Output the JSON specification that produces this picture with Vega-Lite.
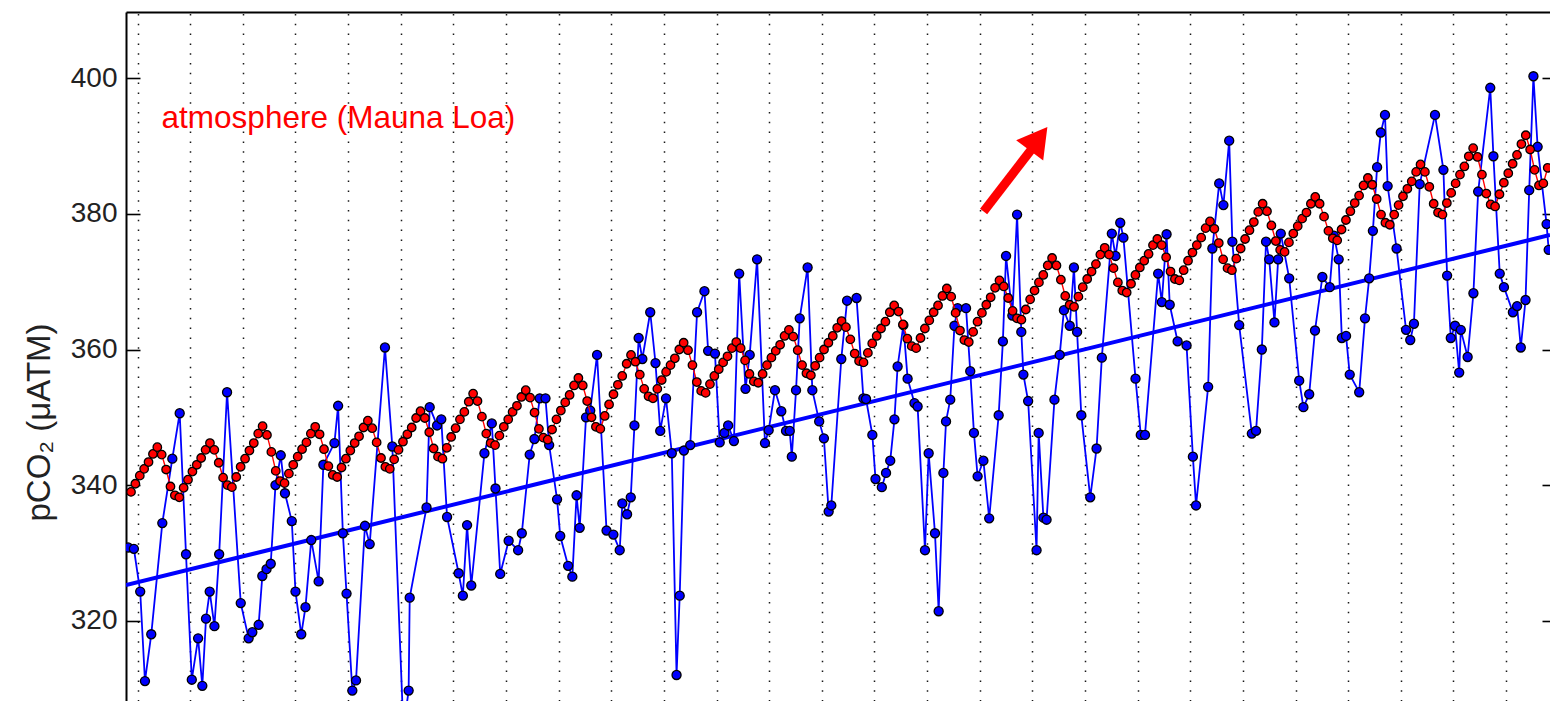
{
  "$schema": "https://vega.github.io/schema/vega-lite/v6.json",
  "width": 1424,
  "height": 689,
  "autosize": {"type": "none"},
  "padding": {"left": 126, "top": 12, "right": 0, "bottom": 0},
  "background": "white",
  "config": {"view": {"stroke": null}},
  "datasets": {
    "trend": [{"t": 1982.78, "v": 325.25}, {"t": 2009.835, "v": 376.9}],
    "ocean": [
      {"t":1982.82,"v":330.8},{"t":1982.93,"v":330.6},{"t":1983.05,"v":324.3},{"t":1983.14,"v":311.1},{"t":1983.26,"v":318.0},{"t":1983.47,"v":334.4},{"t":1983.66,"v":343.9},{"t":1983.80,"v":350.6},{"t":1983.92,"v":329.8},{"t":1984.03,"v":311.3},{"t":1984.15,"v":317.4},{"t":1984.23,"v":310.4},{"t":1984.30,"v":320.3},{"t":1984.37,"v":324.3},{"t":1984.46,"v":319.2},{"t":1984.55,"v":329.8},{"t":1984.70,"v":353.7},{"t":1984.96,"v":322.6},{"t":1985.11,"v":317.4},{"t":1985.18,"v":318.3},{"t":1985.30,"v":319.4},{"t":1985.37,"v":326.6},{"t":1985.45,"v":327.6},{"t":1985.53,"v":328.4},{"t":1985.62,"v":340.0},{"t":1985.72,"v":344.4},{"t":1985.80,"v":338.8},{"t":1985.93,"v":334.7},{"t":1986.00,"v":324.3},{"t":1986.11,"v":318.0},{"t":1986.19,"v":322.0},{"t":1986.30,"v":331.9},{"t":1986.44,"v":325.8},{"t":1986.53,"v":343.0},{"t":1986.74,"v":346.2},{"t":1986.81,"v":351.7},{"t":1986.90,"v":332.9},{"t":1986.97,"v":324.0},{"t":1987.08,"v":309.7},{"t":1987.15,"v":311.2},{"t":1987.32,"v":334.0},{"t":1987.41,"v":331.3},{"t":1987.70,"v":360.3},{"t":1987.84,"v":345.7},{"t":1988.05,"v":304.0},{"t":1988.15,"v":309.7},{"t":1988.17,"v":323.4},{"t":1988.49,"v":336.7},{"t":1988.55,"v":351.5},{"t":1988.69,"v":348.8},{"t":1988.77,"v":349.7},{"t":1988.88,"v":335.3},{"t":1989.10,"v":327.0},{"t":1989.18,"v":323.7},{"t":1989.26,"v":334.1},{"t":1989.34,"v":325.2},{"t":1989.59,"v":344.7},{"t":1989.73,"v":349.1},{"t":1989.80,"v":339.5},{"t":1989.89,"v":326.9},{"t":1990.05,"v":331.8},{"t":1990.23,"v":330.4},{"t":1990.30,"v":332.9},{"t":1990.45,"v":344.5},{"t":1990.54,"v":346.8},{"t":1990.64,"v":352.8},{"t":1990.75,"v":352.8},{"t":1990.82,"v":345.9},{"t":1990.97,"v":337.9},{"t":1991.03,"v":332.5},{"t":1991.18,"v":328.1},{"t":1991.26,"v":326.5},{"t":1991.34,"v":338.5},{"t":1991.40,"v":333.7},{"t":1991.52,"v":350.0},{"t":1991.60,"v":351.0},{"t":1991.73,"v":359.2},{"t":1991.91,"v":333.3},{"t":1992.04,"v":332.7},{"t":1992.16,"v":330.4},{"t":1992.21,"v":337.3},{"t":1992.30,"v":335.7},{"t":1992.37,"v":338.2},{"t":1992.44,"v":348.8},{"t":1992.52,"v":361.7},{"t":1992.59,"v":358.6},{"t":1992.74,"v":365.5},{"t":1992.84,"v":358.0},{"t":1992.93,"v":348.0},{"t":1993.04,"v":352.8},{"t":1993.15,"v":344.7},{"t":1993.24,"v":312.0},{"t":1993.30,"v":323.7},{"t":1993.38,"v":345.1},{"t":1993.50,"v":345.9},{"t":1993.63,"v":365.5},{"t":1993.77,"v":368.6},{"t":1993.84,"v":359.8},{"t":1993.97,"v":359.4},{"t":1994.06,"v":346.3},{"t":1994.15,"v":347.7},{"t":1994.22,"v":348.8},{"t":1994.33,"v":346.5},{"t":1994.43,"v":371.2},{"t":1994.55,"v":354.2},{"t":1994.63,"v":359.2},{"t":1994.77,"v":373.3},{"t":1994.92,"v":346.2},{"t":1994.99,"v":348.1},{"t":1995.11,"v":354.0},{"t":1995.23,"v":350.9},{"t":1995.32,"v":348.0},{"t":1995.39,"v":348.0},{"t":1995.43,"v":344.2},{"t":1995.51,"v":354.0},{"t":1995.58,"v":364.6},{"t":1995.73,"v":372.1},{"t":1995.82,"v":354.0},{"t":1995.95,"v":349.4},{"t":1996.04,"v":346.9},{"t":1996.13,"v":336.1},{"t":1996.18,"v":337.0},{"t":1996.37,"v":358.6},{"t":1996.48,"v":367.2},{"t":1996.66,"v":367.6},{"t":1996.79,"v":352.8},{"t":1996.84,"v":352.7},{"t":1996.96,"v":347.4},{"t":1997.02,"v":340.9},{"t":1997.14,"v":339.7},{"t":1997.22,"v":341.8},{"t":1997.30,"v":343.6},{"t":1997.38,"v":349.7},{"t":1997.44,"v":357.5},{"t":1997.55,"v":363.6},{"t":1997.63,"v":355.7},{"t":1997.76,"v":352.1},{"t":1997.82,"v":351.6},{"t":1997.96,"v":330.4},{"t":1998.03,"v":344.7},{"t":1998.15,"v":332.9},{"t":1998.22,"v":321.4},{"t":1998.31,"v":341.8},{"t":1998.36,"v":349.4},{"t":1998.44,"v":352.6},{"t":1998.52,"v":363.5},{"t":1998.58,"v":366.1},{"t":1998.74,"v":366.1},{"t":1998.82,"v":356.8},{"t":1998.89,"v":347.7},{"t":1998.96,"v":341.3},{"t":1999.07,"v":343.6},{"t":1999.18,"v":335.1},{"t":1999.36,"v":350.3},{"t":1999.44,"v":361.2},{"t":1999.50,"v":373.8},{"t":1999.62,"v":365.0},{"t":1999.71,"v":379.9},{"t":1999.79,"v":362.6},{"t":1999.83,"v":356.3},{"t":1999.92,"v":352.4},{"t":2000.08,"v":330.4},{"t":2000.12,"v":347.7},{"t":2000.21,"v":335.2},{"t":2000.27,"v":334.9},{"t":2000.42,"v":352.6},{"t":2000.52,"v":359.2},{"t":2000.60,"v":365.8},{"t":2000.71,"v":363.5},{"t":2000.79,"v":372.1},{"t":2000.85,"v":362.6},{"t":2000.93,"v":350.3},{"t":2001.10,"v":338.2},{"t":2001.22,"v":345.4},{"t":2001.32,"v":358.8},{"t":2001.51,"v":377.1},{"t":2001.58,"v":373.8},{"t":2001.67,"v":378.7},{"t":2001.73,"v":376.5},{"t":2001.96,"v":355.7},{"t":2002.06,"v":347.4},{"t":2002.14,"v":347.4},{"t":2002.39,"v":371.2},{"t":2002.46,"v":367.0},{"t":2002.55,"v":377.0},{"t":2002.61,"v":366.6},{"t":2002.76,"v":361.2},{"t":2002.93,"v":360.6},{"t":2003.05,"v":344.2},{"t":2003.11,"v":337.0},{"t":2003.34,"v":354.5},{"t":2003.42,"v":374.9},{"t":2003.55,"v":384.5},{"t":2003.63,"v":381.3},{"t":2003.74,"v":390.8},{"t":2003.80,"v":375.9},{"t":2003.93,"v":363.6},{"t":2004.17,"v":347.6},{"t":2004.25,"v":348.0},{"t":2004.36,"v":360.0},{"t":2004.44,"v":375.9},{"t":2004.50,"v":373.3},{"t":2004.60,"v":364.0},{"t":2004.67,"v":373.3},{"t":2004.72,"v":377.1},{"t":2004.88,"v":370.5},{"t":2005.07,"v":355.4},{"t":2005.15,"v":351.5},{"t":2005.26,"v":353.4},{"t":2005.37,"v":362.8},{"t":2005.51,"v":370.7},{"t":2005.65,"v":369.2},{"t":2005.73,"v":376.8},{"t":2005.82,"v":373.3},{"t":2005.88,"v":361.7},{"t":2005.96,"v":362.0},{"t":2006.03,"v":356.3},{"t":2006.21,"v":353.7},{"t":2006.32,"v":364.6},{"t":2006.40,"v":370.5},{"t":2006.47,"v":377.5},{"t":2006.55,"v":386.9},{"t":2006.62,"v":392.0},{"t":2006.70,"v":394.6},{"t":2006.75,"v":384.1},{"t":2006.92,"v":374.9},{"t":2007.10,"v":362.9},{"t":2007.18,"v":361.4},{"t":2007.25,"v":363.8},{"t":2007.36,"v":384.4},{"t":2007.65,"v":394.6},{"t":2007.81,"v":386.5},{"t":2007.88,"v":370.9},{"t":2007.95,"v":361.7},{"t":2008.03,"v":363.5},{"t":2008.11,"v":356.6},{"t":2008.14,"v":362.9},{"t":2008.27,"v":358.9},{"t":2008.38,"v":368.3},{"t":2008.47,"v":383.3},{"t":2008.70,"v":398.6},{"t":2008.76,"v":388.5},{"t":2008.88,"v":371.2},{"t":2008.96,"v":369.2},{"t":2009.13,"v":365.5},{"t":2009.21,"v":366.4},{"t":2009.28,"v":360.3},{"t":2009.37,"v":367.3},{"t":2009.44,"v":383.5},{"t":2009.52,"v":400.3},{"t":2009.60,"v":389.9},{"t":2009.77,"v":378.5},{"t":2009.81,"v":374.7}
    ],
    "atm": [
      {"t":1982.875,"v":339.0},{"t":1982.958,"v":340.2},
      {"t":1983.042,"v":341.4},{"t":1983.125,"v":342.4},{"t":1983.208,"v":343.4},{"t":1983.292,"v":344.6},{"t":1983.375,"v":345.6},{"t":1983.458,"v":344.5},{"t":1983.542,"v":342.3},{"t":1983.625,"v":339.8},{"t":1983.708,"v":338.5},{"t":1983.792,"v":338.2},{"t":1983.875,"v":339.6},{"t":1983.958,"v":340.8},
      {"t":1984.042,"v":342.0},{"t":1984.125,"v":343.0},{"t":1984.208,"v":344.0},{"t":1984.292,"v":345.2},{"t":1984.375,"v":346.2},{"t":1984.458,"v":345.2},{"t":1984.542,"v":343.3},{"t":1984.625,"v":341.1},{"t":1984.708,"v":340.0},{"t":1984.792,"v":339.7},{"t":1984.875,"v":341.2},{"t":1984.958,"v":342.7},
      {"t":1985.042,"v":343.9},{"t":1985.125,"v":345.1},{"t":1985.208,"v":346.2},{"t":1985.292,"v":347.6},{"t":1985.375,"v":348.7},{"t":1985.458,"v":347.4},{"t":1985.542,"v":344.9},{"t":1985.625,"v":342.1},{"t":1985.708,"v":340.6},{"t":1985.792,"v":340.3},{"t":1985.875,"v":341.7},{"t":1985.958,"v":343.0},
      {"t":1986.042,"v":344.2},{"t":1986.125,"v":345.3},{"t":1986.208,"v":346.3},{"t":1986.292,"v":347.6},{"t":1986.375,"v":348.6},{"t":1986.458,"v":347.5},{"t":1986.542,"v":345.3},{"t":1986.625,"v":342.8},{"t":1986.708,"v":341.5},{"t":1986.792,"v":341.2},{"t":1986.875,"v":342.6},{"t":1986.958,"v":343.9},
      {"t":1987.042,"v":345.1},{"t":1987.125,"v":346.2},{"t":1987.208,"v":347.2},{"t":1987.292,"v":348.5},{"t":1987.375,"v":349.5},{"t":1987.458,"v":348.4},{"t":1987.542,"v":346.3},{"t":1987.625,"v":344.0},{"t":1987.708,"v":342.7},{"t":1987.792,"v":342.4},{"t":1987.875,"v":343.8},{"t":1987.958,"v":345.2},
      {"t":1988.042,"v":346.4},{"t":1988.125,"v":347.5},{"t":1988.208,"v":348.5},{"t":1988.292,"v":349.9},{"t":1988.375,"v":350.9},{"t":1988.458,"v":349.9},{"t":1988.542,"v":347.8},{"t":1988.625,"v":345.4},{"t":1988.708,"v":344.2},{"t":1988.792,"v":343.9},{"t":1988.875,"v":345.5},{"t":1988.958,"v":347.1},
      {"t":1989.042,"v":348.4},{"t":1989.125,"v":349.7},{"t":1989.208,"v":350.8},{"t":1989.292,"v":352.3},{"t":1989.375,"v":353.5},{"t":1989.458,"v":352.4},{"t":1989.542,"v":350.1},{"t":1989.625,"v":347.6},{"t":1989.708,"v":346.2},{"t":1989.792,"v":345.9},{"t":1989.875,"v":347.3},{"t":1989.958,"v":348.6},
      {"t":1990.042,"v":349.7},{"t":1990.125,"v":350.8},{"t":1990.208,"v":351.7},{"t":1990.292,"v":353.0},{"t":1990.375,"v":354.0},{"t":1990.458,"v":352.9},{"t":1990.542,"v":350.7},{"t":1990.625,"v":348.3},{"t":1990.708,"v":347.0},{"t":1990.792,"v":346.7},{"t":1990.875,"v":348.2},{"t":1990.958,"v":349.7},
      {"t":1991.042,"v":351.0},{"t":1991.125,"v":352.2},{"t":1991.208,"v":353.3},{"t":1991.292,"v":354.7},{"t":1991.375,"v":355.8},{"t":1991.458,"v":354.7},{"t":1991.542,"v":352.4},{"t":1991.625,"v":350.0},{"t":1991.708,"v":348.6},{"t":1991.792,"v":348.3},{"t":1991.875,"v":350.2},{"t":1991.958,"v":351.9},
      {"t":1992.042,"v":353.4},{"t":1992.125,"v":354.8},{"t":1992.208,"v":356.1},{"t":1992.292,"v":357.9},{"t":1992.375,"v":359.2},{"t":1992.458,"v":358.2},{"t":1992.542,"v":356.3},{"t":1992.625,"v":354.2},{"t":1992.708,"v":353.1},{"t":1992.792,"v":352.8},{"t":1992.875,"v":354.2},{"t":1992.958,"v":355.5},
      {"t":1993.042,"v":356.7},{"t":1993.125,"v":357.7},{"t":1993.208,"v":358.7},{"t":1993.292,"v":360.0},{"t":1993.375,"v":361.0},{"t":1993.458,"v":359.9},{"t":1993.542,"v":357.7},{"t":1993.625,"v":355.2},{"t":1993.708,"v":353.9},{"t":1993.792,"v":353.6},{"t":1993.875,"v":354.9},{"t":1993.958,"v":356.1},
      {"t":1994.042,"v":357.1},{"t":1994.125,"v":358.1},{"t":1994.208,"v":359.0},{"t":1994.292,"v":360.2},{"t":1994.375,"v":361.1},{"t":1994.458,"v":360.2},{"t":1994.542,"v":358.4},{"t":1994.625,"v":356.4},{"t":1994.708,"v":355.3},{"t":1994.792,"v":355.1},{"t":1994.875,"v":356.4},{"t":1994.958,"v":357.7},
      {"t":1995.042,"v":358.8},{"t":1995.125,"v":359.8},{"t":1995.208,"v":360.7},{"t":1995.292,"v":362.0},{"t":1995.375,"v":362.9},{"t":1995.458,"v":361.9},{"t":1995.542,"v":359.9},{"t":1995.625,"v":357.7},{"t":1995.708,"v":356.5},{"t":1995.792,"v":356.2},{"t":1995.875,"v":357.6},{"t":1995.958,"v":358.8},
      {"t":1996.042,"v":360.0},{"t":1996.125,"v":361.0},{"t":1996.208,"v":362.0},{"t":1996.292,"v":363.2},{"t":1996.375,"v":364.2},{"t":1996.458,"v":363.3},{"t":1996.542,"v":361.5},{"t":1996.625,"v":359.4},{"t":1996.708,"v":358.3},{"t":1996.792,"v":358.1},{"t":1996.875,"v":359.5},{"t":1996.958,"v":360.9},
      {"t":1997.042,"v":362.0},{"t":1997.125,"v":363.1},{"t":1997.208,"v":364.1},{"t":1997.292,"v":365.5},{"t":1997.375,"v":366.5},{"t":1997.458,"v":365.6},{"t":1997.542,"v":363.7},{"t":1997.625,"v":361.6},{"t":1997.708,"v":360.5},{"t":1997.792,"v":360.2},{"t":1997.875,"v":361.7},{"t":1997.958,"v":363.1},
      {"t":1998.042,"v":364.3},{"t":1998.125,"v":365.5},{"t":1998.208,"v":366.5},{"t":1998.292,"v":367.9},{"t":1998.375,"v":369.0},{"t":1998.458,"v":367.8},{"t":1998.542,"v":365.4},{"t":1998.625,"v":362.8},{"t":1998.708,"v":361.4},{"t":1998.792,"v":361.1},{"t":1998.875,"v":362.6},{"t":1998.958,"v":364.1},
      {"t":1999.042,"v":365.4},{"t":1999.125,"v":366.6},{"t":1999.208,"v":367.7},{"t":1999.292,"v":369.1},{"t":1999.375,"v":370.2},{"t":1999.458,"v":369.3},{"t":1999.542,"v":367.6},{"t":1999.625,"v":365.7},{"t":1999.708,"v":364.6},{"t":1999.792,"v":364.4},{"t":1999.875,"v":365.9},{"t":1999.958,"v":367.4},
      {"t":2000.042,"v":368.7},{"t":2000.125,"v":369.9},{"t":2000.208,"v":371.0},{"t":2000.292,"v":372.4},{"t":2000.375,"v":373.5},{"t":2000.458,"v":372.4},{"t":2000.542,"v":370.3},{"t":2000.625,"v":367.9},{"t":2000.708,"v":366.6},{"t":2000.792,"v":366.3},{"t":2000.875,"v":367.8},{"t":2000.958,"v":369.2},
      {"t":2001.042,"v":370.4},{"t":2001.125,"v":371.5},{"t":2001.208,"v":372.6},{"t":2001.292,"v":374.0},{"t":2001.375,"v":375.0},{"t":2001.458,"v":374.0},{"t":2001.542,"v":372.0},{"t":2001.625,"v":369.9},{"t":2001.708,"v":368.7},{"t":2001.792,"v":368.4},{"t":2001.875,"v":369.7},{"t":2001.958,"v":371.0},
      {"t":2002.042,"v":372.1},{"t":2002.125,"v":373.1},{"t":2002.208,"v":374.1},{"t":2002.292,"v":375.4},{"t":2002.375,"v":376.3},{"t":2002.458,"v":375.4},{"t":2002.542,"v":373.6},{"t":2002.625,"v":371.5},{"t":2002.708,"v":370.4},{"t":2002.792,"v":370.2},{"t":2002.875,"v":371.7},{"t":2002.958,"v":373.1},
      {"t":2003.042,"v":374.3},{"t":2003.125,"v":375.4},{"t":2003.208,"v":376.5},{"t":2003.292,"v":377.9},{"t":2003.375,"v":378.9},{"t":2003.458,"v":377.8},{"t":2003.542,"v":375.7},{"t":2003.625,"v":373.3},{"t":2003.708,"v":372.0},{"t":2003.792,"v":371.7},{"t":2003.875,"v":373.4},{"t":2003.958,"v":374.9},
      {"t":2004.042,"v":376.3},{"t":2004.125,"v":377.6},{"t":2004.208,"v":378.8},{"t":2004.292,"v":380.3},{"t":2004.375,"v":381.5},{"t":2004.458,"v":380.4},{"t":2004.542,"v":378.3},{"t":2004.625,"v":376.0},{"t":2004.708,"v":374.7},{"t":2004.792,"v":374.4},{"t":2004.875,"v":375.8},{"t":2004.958,"v":377.1},
      {"t":2005.042,"v":378.2},{"t":2005.125,"v":379.3},{"t":2005.208,"v":380.2},{"t":2005.292,"v":381.5},{"t":2005.375,"v":382.5},{"t":2005.458,"v":381.5},{"t":2005.542,"v":379.6},{"t":2005.625,"v":377.5},{"t":2005.708,"v":376.4},{"t":2005.792,"v":376.1},{"t":2005.875,"v":377.7},{"t":2005.958,"v":379.1},
      {"t":2006.042,"v":380.4},{"t":2006.125,"v":381.6},{"t":2006.208,"v":382.7},{"t":2006.292,"v":384.2},{"t":2006.375,"v":385.3},{"t":2006.458,"v":384.3},{"t":2006.542,"v":382.2},{"t":2006.625,"v":379.9},{"t":2006.708,"v":378.7},{"t":2006.792,"v":378.4},{"t":2006.875,"v":379.9},{"t":2006.958,"v":381.3},
      {"t":2007.042,"v":382.6},{"t":2007.125,"v":383.7},{"t":2007.208,"v":384.8},{"t":2007.292,"v":386.2},{"t":2007.375,"v":387.3},{"t":2007.458,"v":386.2},{"t":2007.542,"v":384.0},{"t":2007.625,"v":381.5},{"t":2007.708,"v":380.2},{"t":2007.792,"v":379.9},{"t":2007.875,"v":381.6},{"t":2007.958,"v":383.1},
      {"t":2008.042,"v":384.5},{"t":2008.125,"v":385.8},{"t":2008.208,"v":387.0},{"t":2008.292,"v":388.5},{"t":2008.375,"v":389.7},{"t":2008.458,"v":388.4},{"t":2008.542,"v":385.8},{"t":2008.625,"v":383.0},{"t":2008.708,"v":381.4},{"t":2008.792,"v":381.1},{"t":2008.875,"v":382.9},{"t":2008.958,"v":384.6},
      {"t":2009.042,"v":386.0},{"t":2009.125,"v":387.4},{"t":2009.208,"v":388.7},{"t":2009.292,"v":390.3},{"t":2009.375,"v":391.6},{"t":2009.458,"v":389.5},{"t":2009.542,"v":386.5},{"t":2009.625,"v":384.2},{"t":2009.708,"v":384.5},{"t":2009.792,"v":386.8}
    ]
  },
  "resolve": {"axis": {"x": "independent", "y": "independent"}},
  "layer": [
    {
      "data": {"name": "trend"},
      "mark": {"type": "line", "color": "#0000ff", "strokeWidth": 4, "clip": true},
      "encoding": {
        "x": {"field": "t", "type": "quantitative", "scale": {"domain": [1982.78, 2009.835], "nice": false, "zero": false},
          "axis": {"orient": "top", "title": null, "labels": false, "ticks": false, "domain": true, "domainColor": "#000000", "domainWidth": 2,
            "grid": true, "gridColor": "#000000", "gridWidth": 1.5, "gridDash": [1.5, 8.3], "gridOpacity": 0.9,
            "values": [1983,1984,1985,1986,1987,1988,1989,1990,1991,1992,1993,1994,1995,1996,1997,1998,1999,2000,2001,2002,2003,2004,2005,2006,2007,2008,2009]}},
        "y": {"field": "v", "type": "quantitative", "scale": {"domain": [308.16, 409.78], "nice": false, "zero": false},
          "axis": {"orient": "left", "values": [320, 340, 360, 380, 400], "grid": false, "tickSize": -14, "tickWidth": 1.6, "tickColor": "#000000",
            "labelPadding": 23, "labelFontSize": 28, "labelFont": "Liberation Sans", "labelColor": "#222222",
            "domainColor": "#000000", "domainWidth": 2,
            "title": "pCO₂ (μATM)", "titleFont": "Liberation Sans", "titleFontSize": 33, "titleFontWeight": "normal", "titleColor": "#222222",
            "titleAngle": -90, "titleX": -77, "titleY": 410, "titleAlign": "center", "titleBaseline": "alphabetic"}}
      }
    },
    {
      "data": {"name": "ocean"},
      "mark": {"type": "line", "color": "#0000ff", "strokeWidth": 1.8, "clip": true},
      "encoding": {
        "x": {"field": "t", "type": "quantitative", "scale": {"domain": [1982.78, 2009.835], "nice": false, "zero": false}, "axis": null},
        "y": {"field": "v", "type": "quantitative", "scale": {"domain": [308.16, 409.78], "nice": false, "zero": false}, "axis": null}
      }
    },
    {
      "data": {"name": "ocean"},
      "mark": {"type": "point", "shape": "circle", "filled": true, "fill": "#0000ff", "stroke": "#000000", "strokeWidth": 1.3, "size": 82, "opacity": 1, "clip": true},
      "encoding": {
        "x": {"field": "t", "type": "quantitative", "scale": {"domain": [1982.78, 2009.835], "nice": false, "zero": false}, "axis": null},
        "y": {"field": "v", "type": "quantitative", "scale": {"domain": [308.16, 409.78], "nice": false, "zero": false}, "axis": null}
      }
    },
    {
      "data": {"name": "atm"},
      "mark": {"type": "line", "color": "#ff0000", "strokeWidth": 1.4, "clip": true},
      "encoding": {
        "x": {"field": "t", "type": "quantitative", "scale": {"domain": [1982.78, 2009.835], "nice": false, "zero": false}, "axis": null},
        "y": {"field": "v", "type": "quantitative", "scale": {"domain": [308.16, 409.78], "nice": false, "zero": false},
          "axis": {"orient": "right", "values": [320, 340, 360, 380, 400], "labels": false, "domain": false, "grid": false, "title": null,
            "tickSize": -8, "tickWidth": 1.6, "tickColor": "#000000"}}
      }
    },
    {
      "data": {"name": "atm"},
      "mark": {"type": "point", "shape": "circle", "filled": true, "fill": "#ff0000", "stroke": "#000000", "strokeWidth": 1.3, "size": 72, "opacity": 1, "clip": true},
      "encoding": {
        "x": {"field": "t", "type": "quantitative", "scale": {"domain": [1982.78, 2009.835], "nice": false, "zero": false}, "axis": null},
        "y": {"field": "v", "type": "quantitative", "scale": {"domain": [308.16, 409.78], "nice": false, "zero": false}, "axis": null}
      }
    },
    {
      "data": {"values": [{"label": "atmosphere (Mauna Loa)"}]},
      "mark": {"type": "text", "color": "#ff0000", "font": "Liberation Sans", "fontSize": 31.5, "align": "left", "baseline": "alphabetic"},
      "encoding": {
        "x": {"datum": 1983.456, "type": "quantitative", "scale": {"domain": [1982.78, 2009.835], "nice": false, "zero": false}, "axis": null},
        "y": {"datum": 392.67, "type": "quantitative", "scale": {"domain": [308.16, 409.78], "nice": false, "zero": false}, "axis": null},
        "text": {"field": "label"}
      }
    },
    {
      "data": {"values": [{"a": 1}]},
      "mark": {"type": "rule", "color": "#ff0000", "strokeWidth": 9},
      "encoding": {
        "x": {"datum": 1999.074, "type": "quantitative", "scale": {"domain": [1982.78, 2009.835], "nice": false, "zero": false}, "axis": null},
        "y": {"datum": 380.35, "type": "quantitative", "scale": {"domain": [308.16, 409.78], "nice": false, "zero": false}, "axis": null},
        "x2": {"datum": 2000.0},
        "y2": {"datum": 389.7}
      }
    },
    {
      "data": {"values": [{"a": 1}]},
      "mark": {"type": "point", "shape": "triangle-up", "filled": true, "fill": "#ff0000", "strokeWidth": 0, "size": 1150, "angle": 37, "opacity": 1},
      "encoding": {
        "x": {"datum": 2000.117, "type": "quantitative", "scale": {"domain": [1982.78, 2009.835], "nice": false, "zero": false}, "axis": null},
        "y": {"datum": 391.1, "type": "quantitative", "scale": {"domain": [308.16, 409.78], "nice": false, "zero": false}, "axis": null}
      }
    }
  ]
}
